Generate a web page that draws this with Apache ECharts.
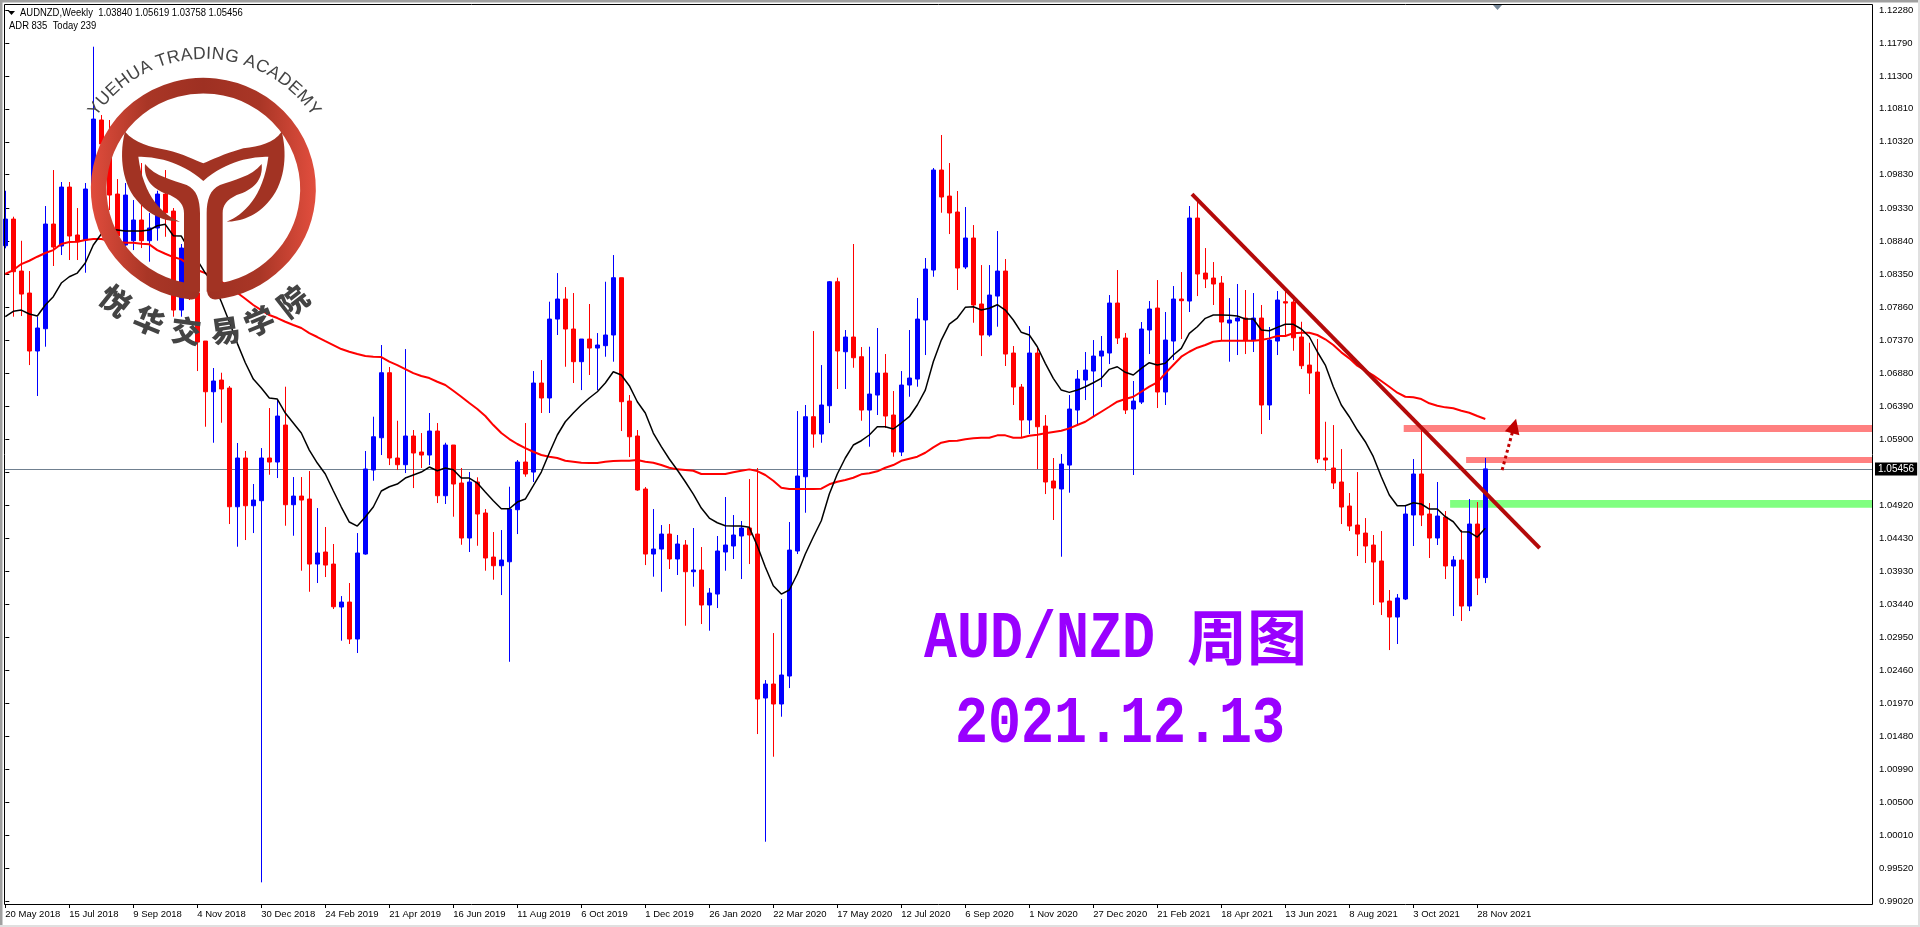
<!DOCTYPE html>
<html><head><meta charset="utf-8">
<style>html,body{margin:0;padding:0;background:#fff}#c{width:1920px;height:927px}</style>
<script src="https://cdn.jsdelivr.net/npm/echarts@6/dist/echarts.min.js"></script>
</head><body><div id="c"></div>
<script>
const dateLabels=['20 May 2018','15 Jul 2018','9 Sep 2018','4 Nov 2018','30 Dec 2018','24 Feb 2019','21 Apr 2019','16 Jun 2019','11 Aug 2019','6 Oct 2019','1 Dec 2019','26 Jan 2020','22 Mar 2020','17 May 2020','12 Jul 2020','6 Sep 2020','1 Nov 2020','27 Dec 2020','21 Feb 2021','18 Apr 2021','13 Jun 2021','8 Aug 2021','3 Oct 2021','28 Nov 2021'];
const priceTicks=[1.1228,1.1179,1.113,1.1081,1.1032,1.0983,1.0933,1.0884,1.0835,1.0786,1.0737,1.0688,1.0639,1.059,1.0541,1.0492,1.0443,1.0393,1.0344,1.0295,1.0246,1.0197,1.0148,1.0099,1.005,1.0001,0.9952,0.9902];
// open, close, low, high
const ohlc=[
[1.08774,1.09171,1.08736,1.09592],[1.09171,1.08388,1.07719,1.09206],[1.08398,1.08056,1.07729,1.08848],[1.08071,1.07209,1.07,1.08398],[1.07209,1.07551,1.0654,1.07719],
[1.0754,1.09097,1.07273,1.09365],[1.09097,1.08755,1.08473,1.099],[1.0877,1.09647,1.08636,1.09722],[1.09647,1.08919,1.08562,1.09722],[1.08934,1.08834,1.08562,1.09335],
[1.08859,1.09618,1.08373,1.09707],[1.09618,1.10658,1.09528,1.11734],[1.10644,1.10287,1.10198,1.10718],[1.10198,1.09528,1.09305,1.10644],[1.09543,1.08919,1.0871,1.09766],
[1.08785,1.09528,1.0871,1.09707],[1.08849,1.09157,1.0871,1.09454],[1.09157,1.08849,1.0874,1.10004],[1.08849,1.09038,1.08537,1.09261],[1.09038,1.09543,1.08849,1.09592],
[1.09543,1.09265,1.08908,1.099],[1.0929,1.07818,1.07719,1.09335],[1.07818,1.0874,1.07719,1.088],[1.0871,1.08071,1.07967,1.08785],[1.08071,1.07342,1.06911,1.08116],
[1.07357,1.06603,1.06083,1.07357],[1.06603,1.06763,1.05845,1.06956],[1.06777,1.06644,1.06142,1.06886],[1.06658,1.04893,1.04636,1.06688],[1.04893,1.05618,1.04299,1.05841],
[1.05618,1.04908,1.04398,1.05722],[1.04908,1.04993,1.04502,1.05231],[1.04983,1.05618,0.99308,1.05766],[1.05618,1.05558,1.05369,1.06361],[1.05558,1.06242,1.0532,1.0648],
[1.06108,1.04923,1.04611,1.06678],[1.04923,1.05052,1.04462,1.05335],[1.05052,1.04993,1.03942,1.05335],[1.05008,1.04041,1.03629,1.05424],[1.04041,1.04205,1.03759,1.04874],
[1.0422,1.04026,1.03848,1.04592],[1.04041,1.03406,1.03372,1.04339],[1.03402,1.03476,1.02901,1.03565],[1.03476,1.02926,1.02852,1.03759],[1.02926,1.04205,1.02718,1.04502],
[1.0419,1.05454,1.0418,1.05722],[1.05439,1.05934,1.0528,1.06232],[1.05919,1.06886,1.05662,1.07298],[1.06886,1.05618,1.05513,1.06971],[1.05618,1.05518,1.05439,1.06172],
[1.05518,1.05945,1.05394,1.07238],[1.05945,1.05692,1.05171,1.06034],[1.05707,1.05662,1.05469,1.05989],[1.05662,1.06019,1.05513,1.06287],[1.06019,1.05057,1.04948,1.06138],
[1.05057,1.05811,1.04934,1.05845],[1.05811,1.05231,1.04745,1.05811],[1.05246,1.04428,1.04328,1.05469],[1.04428,1.05261,1.0422,1.05409],[1.05261,1.04785,1.04313,1.05331],
[1.048,1.04131,1.03942,1.04859],[1.04145,1.04016,1.03808,1.04517],[1.04016,1.04101,1.0358,1.04547],[1.04075,1.04859,1.02588,1.05191],[1.04849,1.05558,1.04487,1.05588],
[1.05558,1.0538,1.05339,1.06138],[1.05409,1.06733,1.05261,1.06911],[1.06733,1.0651,1.06287,1.07075],[1.0651,1.07684,1.06287,1.07942],[1.07684,1.07982,1.07447,1.08368],
[1.07982,1.07536,1.06975,1.0816],[1.07536,1.0705,1.06733,1.08071],[1.0705,1.07387,1.06628,1.07387],[1.07387,1.07253,1.06852,1.07908],[1.07253,1.07298,1.06628,1.07476],
[1.07288,1.07447,1.07124,1.08239],[1.07447,1.08299,1.0705,1.08636],[1.08299,1.06455,1.06019,1.08299],[1.06465,1.05934,1.05632,1.06554],[1.05945,1.05142,1.05131,1.06034],
[1.05157,1.0419,1.04026,1.05186],[1.0419,1.04264,1.03853,1.04859],[1.04264,1.04487,1.03629,1.04621],[1.04487,1.04116,1.03967,1.04636],[1.04116,1.04339,1.03878,1.04473],
[1.04324,1.03927,1.03124,1.04398],[1.03927,1.03952,1.03704,1.04577],[1.03952,1.03432,1.03149,1.04294],[1.03432,1.0361,1.0305,1.03684],[1.03595,1.04235,1.03387,1.04458],
[1.0422,1.04324,1.03942,1.05038],[1.04309,1.04473,1.04116,1.0477],[1.04458,1.04577,1.03818,1.04681],[1.04577,1.04473,1.04041,1.05305],[1.04487,1.02034,1.01513,1.05469],
[1.02049,1.02257,0.99912,1.02316],[1.02257,1.0196,1.01176,1.03015],[1.0196,1.02391,1.01771,1.03521],[1.02376,1.04249,1.02197,1.04666],[1.04235,1.0535,1.0419,1.06316],
[1.05339,1.06232,1.04804,1.06406],[1.06232,1.05974,1.05771,1.07506],[1.05974,1.06406,1.05845,1.07],[1.06395,1.08239,1.06138,1.0825],[1.08239,1.07209,1.06644,1.08299],
[1.07198,1.07417,1.06644,1.07521],[1.07417,1.07109,1.0696,1.088],[1.07124,1.06331,1.06172,1.07268],[1.06331,1.06569,1.05786,1.07273],[1.06554,1.06881,1.06257,1.07551],
[1.06881,1.06242,1.06064,1.07164],[1.06257,1.05707,1.05637,1.06614],[1.05707,1.06703,1.05647,1.06911],[1.06703,1.06807,1.06529,1.07521],[1.06792,1.07684,1.06678,1.07997],
[1.0767,1.08428,1.07149,1.08592],[1.08413,1.099,1.08313,1.0993],[1.099,1.09499,1.09265,1.10421],[1.09513,1.09261,1.08948,1.10004],[1.09276,1.08443,1.08116,1.09588],
[1.08458,1.08889,1.08428,1.0935],[1.08889,1.07893,1.07629,1.09082],[1.07908,1.07447,1.07134,1.08487],[1.07447,1.08041,1.07421,1.08487],[1.08026,1.08398,1.0757,1.08993],
[1.08398,1.07164,1.06986,1.08577],[1.07179,1.06673,1.06406,1.07283],[1.06673,1.06183,1.05919,1.06718],[1.06183,1.07179,1.05974,1.0758],[1.07179,1.06083,1.05454,1.07253],
[1.06093,1.05261,1.05082,1.06257],[1.05276,1.05171,1.04696,1.05618],[1.05157,1.05528,1.0415,1.05677],[1.05513,1.06346,1.05102,1.06554],[1.06331,1.06792,1.06108,1.06926],
[1.06777,1.06926,1.0648,1.07194],[1.06911,1.07134,1.06232,1.07372],[1.07134,1.07209,1.06673,1.07432],[1.07179,1.07922,1.07015,1.08041],[1.07922,1.07402,1.07313,1.08413],
[1.07402,1.06331,1.06272,1.07476],[1.06346,1.06465,1.05365,1.06763],[1.0645,1.07536,1.06421,1.0764],[1.07521,1.07833,1.07164,1.07952],[1.07848,1.06599,1.06361,1.08264],
[1.06599,1.07372,1.06406,1.07789],[1.07357,1.07982,1.07075,1.08175],[1.07982,1.07957,1.07387,1.08383],[1.07952,1.09186,1.07789,1.09365],[1.09186,1.08354,1.08026,1.09454],
[1.08368,1.08279,1.08145,1.0874],[1.08294,1.08205,1.07893,1.08532],[1.0822,1.0764,1.07372,1.08324],[1.07625,1.0767,1.0705,1.07997],[1.07655,1.07699,1.07149,1.08205],
[1.07699,1.07372,1.07164,1.08116],[1.07372,1.07699,1.07194,1.08071],[1.07699,1.06406,1.05974,1.07893],[1.06406,1.07372,1.06183,1.07566],[1.07357,1.07967,1.07149,1.08101],
[1.07942,1.07922,1.07421,1.08116],[1.07937,1.07406,1.07213,1.07997],[1.07417,1.0699,1.06941,1.07644],[1.07,1.06881,1.06569,1.07332],[1.06896,1.05603,1.05543,1.07387],
[1.05618,1.05588,1.05429,1.06157],[1.05469,1.05246,1.05157,1.06108],[1.05261,1.04889,1.04636,1.05751],[1.04904,1.04606,1.04532,1.05097],[1.04621,1.04487,1.0416,1.05409],
[1.04502,1.04309,1.04056,1.04725],[1.04324,1.04071,1.03432,1.04473],[1.04086,1.03476,1.03283,1.04532],[1.03491,1.03253,1.02762,1.03655],[1.03253,1.03536,1.02852,1.03595],
[1.03521,1.04785,1.03506,1.04904],[1.0477,1.0538,1.04309,1.05603],[1.0538,1.0477,1.04606,1.06034],[1.04785,1.04428,1.04131,1.04948],[1.04428,1.04755,1.04324,1.05261],
[1.0474,1.04012,1.03818,1.04829],[1.04012,1.04101,1.03268,1.0416],[1.04101,1.03417,1.03194,1.04547],[1.03417,1.04636,1.03342,1.05008],[1.04636,1.03833,1.0358,1.04963],
[1.0384,1.05456,1.03758,1.05619]];
const maFast=[1.07719,1.07799,1.07818,1.07759,1.07729,1.07893,1.08016,1.0822,1.08313,1.08368,1.08517,1.08785,1.08948,1.09023,1.09008,1.08993,1.08993,1.08993,1.09008,1.09072,1.09093,1.08923,1.08919,1.0871,1.08562,1.08368,1.0822,1.07942,1.07644,1.07323,1.07034,1.06792,1.06658,1.0651,1.06495,1.06287,1.06138,1.05989,1.05736,1.05543,1.0538,1.05131,1.04889,1.04666,1.04606,1.0474,1.04889,1.05127,1.05191,1.05231,1.0532,1.05365,1.05409,1.05484,1.05429,1.05469,1.05444,1.0532,1.0532,1.05246,1.05112,1.04983,1.04864,1.04864,1.04963,1.05008,1.05206,1.05409,1.05692,1.0596,1.06157,1.06287,1.06406,1.0651,1.06603,1.06733,1.06901,1.06852,1.06693,1.06455,1.06287,1.05989,1.05786,1.05603,1.05439,1.05265,1.05082,1.04874,1.04725,1.04655,1.04611,1.04606,1.04606,1.04587,1.04313,1.03997,1.03719,1.03595,1.03655,1.03893,1.0419,1.04443,1.04685,1.05082,1.0538,1.05618,1.05811,1.05875,1.0596,1.06083,1.06083,1.06049,1.06138,1.06232,1.06406,1.06628,1.0705,1.07372,1.0761,1.07699,1.07858,1.07867,1.07818,1.07844,1.07897,1.07818,1.0767,1.07487,1.07447,1.07273,1.07026,1.06803,1.06628,1.06594,1.06628,1.06678,1.06737,1.06803,1.06936,1.06975,1.06892,1.06852,1.06951,1.07035,1.07,1.07026,1.07149,1.07249,1.07472,1.0757,1.07695,1.07744,1.07744,1.0774,1.07729,1.07684,1.07684,1.07521,1.0751,1.07561,1.07606,1.07606,1.07536,1.07421,1.07198,1.07,1.06678,1.06406,1.06232,1.06034,1.0586,1.05637,1.05339,1.05067,1.04908,1.04908,1.04953,1.04934,1.04859,1.04859,1.04745,1.0467,1.04522,1.04517,1.04443,1.04572];
const maSlow=[1.08354,1.08413,1.08502,1.08551,1.08611,1.08666,1.0871,1.088,1.0883,1.08834,1.08859,1.08874,1.08874,1.08849,1.0883,1.08819,1.08819,1.08804,1.08795,1.0871,1.08655,1.08606,1.08572,1.08487,1.08413,1.08368,1.08324,1.08239,1.08165,1.08076,1.07986,1.07893,1.07818,1.07744,1.07699,1.07644,1.07595,1.07551,1.07476,1.07417,1.07357,1.07298,1.07238,1.07198,1.07164,1.07134,1.07124,1.07119,1.0705,1.07,1.06941,1.06881,1.06837,1.06807,1.06752,1.06703,1.06618,1.06529,1.06435,1.06346,1.06242,1.06108,1.05989,1.059,1.05826,1.05766,1.05711,1.05662,1.05637,1.05618,1.05577,1.05562,1.05547,1.05543,1.05543,1.05562,1.05573,1.05577,1.05577,1.05588,1.05562,1.05547,1.05513,1.05473,1.05449,1.05439,1.05429,1.0538,1.0538,1.0538,1.0538,1.05405,1.05429,1.05449,1.05424,1.05365,1.0528,1.05176,1.05157,1.05157,1.05157,1.05157,1.05161,1.05227,1.05265,1.0529,1.05325,1.05375,1.0539,1.0542,1.05473,1.05513,1.05577,1.05607,1.05637,1.05696,1.05777,1.05845,1.0587,1.05875,1.05896,1.05911,1.05919,1.05919,1.05955,1.05955,1.05919,1.05919,1.05949,1.05964,1.05985,1.06004,1.06023,1.06059,1.06108,1.06157,1.06232,1.06306,1.0638,1.06455,1.06495,1.06529,1.06603,1.06678,1.06743,1.06877,1.07,1.07124,1.07198,1.07258,1.07298,1.07347,1.07362,1.07362,1.07362,1.07362,1.07362,1.07372,1.07397,1.07432,1.07432,1.07472,1.07481,1.07481,1.07447,1.07383,1.07298,1.07189,1.071,1.0699,1.06916,1.06847,1.06763,1.06678,1.06589,1.06529,1.0652,1.06495,1.06431,1.06395,1.06371,1.06357,1.06321,1.06291,1.06242,1.06198];
const lastPrice=1.05456;
const trendLine=[[148.34,1.09543],[191.8,1.04279]];
const arrowLine=[[187.1,1.05439],[188.6,1.06093]];
const pinkBands=[[174.8,1.06108,1.06004],[182.6,1.05632,1.05543]];
const greenBand=[180.6,1.04993,1.04878];
const yMin=0.98986,yMax=1.12369,xMin=-0.1625,xMax=233.3375,slotCount=234;

const categories=Array.from({length:slotCount},(_,i)=>i%8===0&&dateLabels[i/8]?dateLabels[i/8]:'');
const uiFont='"Liberation Sans",sans-serif';
const showSlot=i=>i%8===0&&i/8<dateLabels.length;
const bandItem=(b,color)=>[{coord:[b[0],b[1]],itemStyle:{color,opacity:1}},{coord:[xMax,b[2]]}];

const chart=echarts.init(document.getElementById('c'),null,{renderer:'canvas'});

// logo
const ringGrad={type:'linear',x:0,y:0,x2:1,y2:0,colorStops:[{offset:0,color:'#e04c3c'},{offset:.25,color:'#a93626'},{offset:.5,color:'#9e3022'},{offset:.75,color:'#a93626'},{offset:1,color:'#e24e3e'}]};
const logoColor='#a23323';
const logoPaths={
 logoRing:'M335 725 A314 310 0 1 1 405 725',
 logoHorn:'M135 245 C165 280 210 290 260 300 C310 312 345 330 370 340 C395 330 430 312 490 295 C540 288 580 280 605 245 C620 300 620 390 570 450 C530 500 480 515 440 515 C490 495 550 440 565 320 C520 320 440 330 370 393 C300 330 220 320 175 320 C190 440 250 495 300 515 C260 515 210 500 170 450 C120 390 120 300 135 245 Z',
 logoLeafL:'M195 342 C225 380 280 390 320 405 C350 418 360 450 360 490 L360 725 L312 725 L312 490 C312 465 300 450 270 435 C220 420 190 390 195 342 Z',
 logoLeafR:'M545 342 C515 380 460 390 420 405 C390 418 380 450 380 490 L380 725 L428 725 L428 490 C428 465 440 450 470 435 C520 420 550 390 545 342 Z'
};
for(const k in logoPaths) echarts.graphic.registerShape(k,echarts.graphic.extendPath(logoPaths[k],{}));
const logoBits=[
 {type:'logoRing',z:50,style:{fill:'none',stroke:ringGrad,lineWidth:47,lineCap:'round'}},
 {type:'logoHorn',z:50,style:{fill:logoColor}},
 {type:'logoLeafL',z:50,style:{fill:logoColor}},
 {type:'logoLeafR',z:50,style:{fill:logoColor}}
];
const els=[];
els.push({type:'group',x:80,y:50,scaleX:1/3,scaleY:1/3,z:50,children:logoBits});
// curved academy name
(function(){
 const cx=204.5,cy=189,R=126,font='17.5px "Liberation Sans",sans-serif',txt='YUEHUA TRADING ACADEMY';
 const m=document.createElement('canvas').getContext('2d');m.font=font;
 const total=m.measureText(txt).width;let run=0;
 for(const ch of txt){const w=m.measureText(ch).width;const th=((run+w/2)-total/2)/R;run+=w;
  if(ch===' ')continue;
  els.push({type:'text',z:51,x:cx+R*Math.sin(th),y:cy-R*Math.cos(th),rotation:-th,style:{text:ch,font,fill:'#444',align:'center',verticalAlign:'bottom'}});}
 const cn=[['悦',38.6],['华',22.8],['交',7.4],['易',-8.4],['学',-22.5],['院',-38.2]];
 for(const [ch,a] of cn){const th=a*Math.PI/180;
  els.push({type:'text',z:51,x:cx-143*Math.sin(th),y:cy+143*Math.cos(th),rotation:-th,style:{text:ch,font:'900 30px "Noto Sans CJK SC",sans-serif',fill:'#444',align:'center',verticalAlign:'middle'}});}
})();
// frame
els.push({type:'rect',z:40,shape:{x:4.5,y:4.5,width:1868,height:900},style:{fill:'none',stroke:'#000',lineWidth:1}});
els.push({type:'rect',z:40,shape:{x:0,y:0,width:1920,height:2.5},style:{fill:'#a0a0a0'}});
els.push({type:'rect',z:40,shape:{x:0,y:0,width:2.5,height:927},style:{fill:'#a0a0a0'}});
els.push({type:'rect',z:40,shape:{x:0,y:925,width:1920,height:2},style:{fill:'#e0e0e0'}});
els.push({type:'rect',z:40,shape:{x:1918,y:0,width:2,height:927},style:{fill:'#e0e0e0'}});
els.push({type:'polygon',z:40,shape:{points:[[1493,5],[1502,5],[1497.5,10]]},style:{fill:'#778899'}});
els.push({type:'polygon',z:40,shape:{points:[[8,11],[15,11],[11.5,15]]},style:{fill:'#000'}});
// header text
els.push({type:'text',z:60,x:20,y:12.5,scaleX:.86,style:{text:'AUDNZD,Weekly  1.03840 1.05619 1.03758 1.05456',font:'11px '+uiFont,fill:'#000',verticalAlign:'middle'}});
els.push({type:'text',z:60,x:9,y:26,scaleX:.86,style:{text:'ADR 835  Today 239',font:'11px '+uiFont,fill:'#000',verticalAlign:'middle'}});
// big purple titles
const mono='bold 55px "Liberation Mono",monospace';
els.push({type:'text',z:60,x:924,y:640.5,scaleY:1.2,style:{text:'AUD/NZD',font:mono,fill:'#9900ff',verticalAlign:'middle'}});
els.push({type:'text',z:60,x:1187,y:637,style:{text:'周图',font:'bold 60px "Noto Sans CJK SC",sans-serif',fill:'#9900ff',verticalAlign:'middle'}});
els.push({type:'text',z:60,x:955,y:725,scaleY:1.2,style:{text:'2021.12.13',font:mono,fill:'#9900ff',verticalAlign:'middle'}});

chart.setOption({
 animation:false,
 backgroundColor:'#fff',
 grid:[{left:5.3,top:4,width:1864,height:900,containLabel:false,outerBoundsMode:'none'},{left:4,top:4,width:1868,height:900,containLabel:false,outerBoundsMode:'none'}],
 xAxis:[
  {gridIndex:0,type:'category',data:categories,boundaryGap:false,axisLine:{show:false},splitLine:{show:false},
   axisTick:{show:true,length:4,interval:i=>showSlot(i),lineStyle:{color:'#000'}},
   axisLabel:{show:true,interval:i=>showSlot(i),align:'left',margin:5,hideOverlap:false,showMinLabel:true,color:'#000',fontFamily:uiFont,fontSize:9.5}},
  {gridIndex:1,type:'value',min:xMin,max:xMax,show:false}
 ],
 yAxis:[
  {gridIndex:0,type:'value',min:yMin,max:yMax,show:false,scale:true},
  {gridIndex:1,type:'value',min:yMin,max:yMax,position:'right',scale:true,splitLine:{show:false},axisLine:{show:false},
   axisTick:{show:true,length:4,customValues:priceTicks,lineStyle:{color:'#000'}},
   axisLabel:{show:true,customValues:priceTicks,margin:7,color:'#000',fontFamily:uiFont,fontSize:9.5,showMinLabel:true,showMaxLabel:true,formatter:v=>v.toFixed(5)}}
 ],
 series:[
  {name:'levels',type:'line',xAxisIndex:1,yAxisIndex:1,data:[],z:1,silent:true,
   markArea:{silent:true,z:1,data:[bandItem(pinkBands[0],'#ff8080'),bandItem(pinkBands[1],'#ff8080'),bandItem(greenBand,'#80ff80')]},
   markLine:{silent:true,z:1,symbol:'none',lineStyle:{color:'#708090',width:1,type:'solid'},
    label:{show:true,position:'end',formatter:()=>lastPrice.toFixed(5),color:'#fff',backgroundColor:'#000',padding:[2,3,1,3],fontFamily:uiFont,fontSize:10,distance:3},
    data:[[{coord:[xMin,lastPrice]},{coord:[xMax,lastPrice]}]]}},
  {name:'AUDNZD',type:'candlestick',xAxisIndex:0,yAxisIndex:0,data:ohlc,barWidth:5,z:2,
   itemStyle:{color:'#0000ff',color0:'#ff0000',borderColor:'#0000ff',borderColor0:'#ff0000',borderWidth:1}},
  {name:'MA slow',type:'line',xAxisIndex:0,yAxisIndex:0,data:maSlow,symbol:'none',z:3,lineStyle:{color:'#ff0000',width:2}},
  {name:'MA fast',type:'line',xAxisIndex:0,yAxisIndex:0,data:maFast,symbol:'none',z:3,lineStyle:{color:'#000',width:1.5}},
  {name:'trend',type:'line',xAxisIndex:1,yAxisIndex:1,data:trendLine,symbol:'none',z:6,lineStyle:{color:'#b40a0a',width:4}},
  {name:'arrow',type:'line',xAxisIndex:1,yAxisIndex:1,data:[],z:6,silent:true,
   markLine:{silent:true,z:6,symbol:['none','triangle'],symbolSize:15,label:{show:false},lineStyle:{color:'#c00000',width:3,type:'dotted'},
    data:[[{coord:arrowLine[0]},{coord:arrowLine[1]}]]}}
 ],
 graphic:{elements:els}
});
</script></body></html>
